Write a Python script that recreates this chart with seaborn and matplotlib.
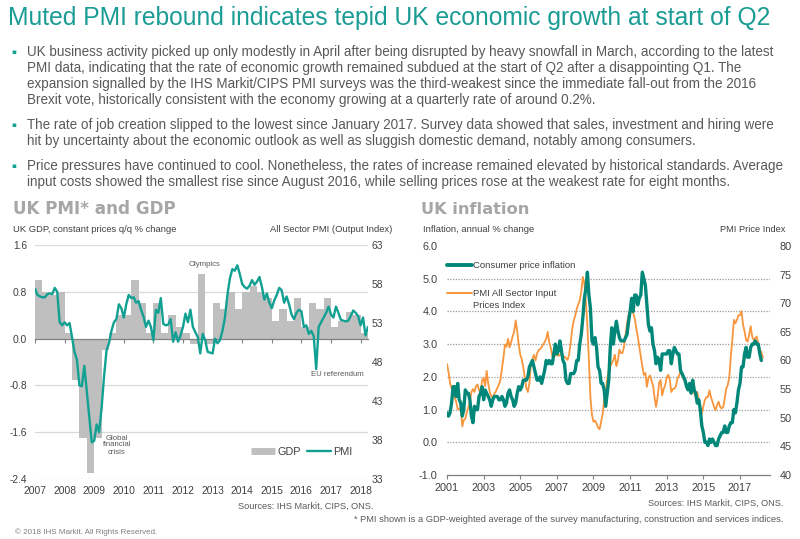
import numpy as np
import pandas as pd
import matplotlib
matplotlib.use("Agg")
import matplotlib.pyplot as plt
from matplotlib.lines import Line2D
from matplotlib import font_manager as fm
import seaborn as sns

# ------------------------------------------------------------------ data
gdp_start = 2007          # quarterly, 2007 Q1 .. 2018 Q1
gdp_qoq = [1.0, 0.8, 0.75, 0.8,
           0.1, -0.7, -1.7, -2.3,
           -1.7, -0.2, 0.1, 0.4,
           0.4, 1.0, 0.6, 0.1,
           0.6, 0.1, 0.4, 0.2,
           0.1, -0.1, 1.1, -0.1,
           0.6, 0.5, 0.8, 0.5,
           0.8, 0.9, 0.8, 0.7,
           0.3, 0.5, 0.3, 0.7,
           0.2, 0.6, 0.5, 0.7,
           0.2, 0.3, 0.45, 0.4,
           0.1]

pmi_start = 2007          # monthly, Jan 2007 .. Apr 2018
pmi_output = [57.4, 56.6, 56.4, 56.3, 56.3, 56.7, 56.8, 56.7, 57.5, 57.0, 53.1, 52.7,
              53.1, 52.7, 53.0, 51.2, 49.3, 48.3, 45.0, 44.9, 47.5, 44.2, 40.8, 37.7,
              37.9, 40.0, 39.0, 42.1, 46.2, 49.5, 50.4, 52.0, 53.1, 53.5, 55.4, 54.9,
              53.7, 55.4, 56.6, 56.2, 56.3, 55.6, 55.8, 54.7, 53.8, 52.5, 53.3, 52.5,
              50.8, 54.7, 54.3, 56.2, 52.9, 52.7, 52.8, 53.5, 50.6, 51.8, 50.6, 51.4,
              52.5, 54.2, 53.1, 54.7, 52.5, 51.8, 51.2, 49.1, 51.6, 50.8, 49.3, 49.2,
              49.1, 51.0, 50.4, 50.8, 52.0, 53.7, 56.6, 58.7, 59.9, 59.7, 60.4, 59.3,
              58.0, 57.6, 57.4, 57.8, 58.5, 57.9, 58.3, 58.9, 57.6, 56.0, 56.8, 55.6,
              54.9, 55.9, 56.6, 57.5, 57.2, 55.6, 56.4, 55.4, 54.1, 53.5, 54.3, 54.7,
              54.5, 52.5, 52.7, 51.6, 52.0, 51.3, 47.1, 52.5, 53.1, 53.7, 54.3, 55.1,
              54.1, 53.7, 55.1, 54.3, 53.4, 53.3, 53.2, 53.3, 53.9, 54.6, 54.3, 53.9,
              52.7, 53.7, 51.4, 52.5]

infl_start = 2001         # monthly from Jan 2001
cpi_inflation = [0.9, 0.8, 0.9, 1.2, 1.7, 1.7, 1.4, 1.8, 1.3, 1.2, 0.8, 1.0,
                 1.6, 1.5, 1.5, 1.3, 0.8, 0.6, 1.1, 1.0, 1.0, 1.4, 1.5, 1.7,
                 1.3, 1.6, 1.5, 1.4, 1.3, 1.1, 1.3, 1.4, 1.4, 1.4, 1.3, 1.3,
                 1.4, 1.3, 1.1, 1.2, 1.5, 1.6, 1.4, 1.3, 1.1, 1.2, 1.5, 1.7,
                 1.6, 1.7, 1.9, 1.9, 1.9, 2.0, 2.3, 2.4, 2.5, 2.3, 2.1, 1.9,
                 1.9, 2.0, 1.8, 2.0, 2.2, 2.5, 2.4, 2.5, 2.4, 2.4, 2.7, 3.0,
                 2.7, 2.8, 3.1, 2.8, 2.5, 2.4, 1.9, 1.8, 1.8, 2.1, 2.1, 2.1,
                 2.2, 2.5, 2.5, 3.0, 3.3, 3.8, 4.4, 4.7, 5.2, 4.5, 4.1, 3.1,
                 3.0, 3.2, 2.9, 2.3, 2.2, 1.8, 1.8, 1.6, 1.1, 1.5, 1.9, 2.9,
                 3.5, 3.0, 3.4, 3.7, 3.4, 3.2, 3.1, 3.1, 3.1, 3.2, 3.3, 3.7,
                 4.0, 4.4, 4.0, 4.5, 4.5, 4.2, 4.4, 4.5, 5.2, 5.0, 4.8, 4.2,
                 3.6, 3.4, 3.5, 3.0, 2.8, 2.4, 2.6, 2.5, 2.2, 2.7, 2.7, 2.7,
                 2.7, 2.8, 2.8, 2.4, 2.7, 2.9, 2.8, 2.7, 2.7, 2.2, 2.1, 2.0,
                 1.9, 1.7, 1.6, 1.8, 1.5, 1.9, 1.6, 1.5, 1.2, 1.3, 1.0, 0.5,
                 0.3, 0.0, 0.0, -0.1, 0.1, 0.0, 0.1, 0.0, -0.1, -0.1, 0.1, 0.2,
                 0.3, 0.3, 0.5, 0.3, 0.3, 0.5, 0.6, 0.6, 1.0, 0.9, 1.2, 1.6,
                 1.8, 2.3, 2.3, 2.7, 2.9, 2.6, 2.6, 2.9, 3.0, 3.0, 3.1, 3.0,
                 3.0, 2.7, 2.5]

pmi_input_prices = [59.4, 58.0, 56.0, 55.2, 54.0, 53.6, 52.8, 51.5, 51.5, 51.8, 48.5, 49.6,
                    49.8, 51.0, 51.8, 52.7, 54.5, 55.0, 54.5, 55.5, 55.8, 54.8, 54.5, 56.5,
                    57.0, 55.5, 58.2, 56.0, 54.5, 53.8, 53.5, 54.2, 54.6, 55.2, 55.8, 56.6,
                    58.5, 60.5, 62.8, 62.4, 63.8, 62.3, 63.2, 64.2, 65.0, 67.0, 65.2, 62.8,
                    61.0, 60.2, 58.8, 57.0, 55.2, 54.5, 56.0, 59.5, 60.2, 61.0, 60.0, 61.2,
                    61.8, 62.0, 62.3, 62.8, 63.2, 63.8, 65.0, 63.2, 62.2, 60.8, 61.5, 60.8,
                    61.5, 60.8, 61.0, 61.2, 60.5, 60.7, 60.4, 60.1, 61.0, 63.0, 65.4, 66.9,
                    67.8, 69.0, 69.8, 70.5, 72.0, 74.6, 73.5, 70.5, 66.0, 60.0, 53.5, 50.5,
                    49.3, 49.5, 49.0, 48.3, 48.0, 49.3, 50.7, 53.1, 54.5, 56.8, 58.3, 59.0,
                    59.5, 60.1, 61.0, 59.0, 60.0, 61.9, 61.3, 61.3, 62.4, 64.5, 66.5, 68.0,
                    68.6, 68.9, 68.3, 67.4, 65.7, 64.2, 62.4, 60.7, 59.0, 57.5, 57.8, 55.4,
                    57.0, 57.4, 56.5, 55.7, 53.6, 51.9, 53.6, 56.1, 56.6, 53.9, 55.0, 55.7,
                    57.0, 57.5, 56.6, 54.5, 55.0, 55.1, 55.5, 56.8, 57.3, 58.1, 57.5, 56.8,
                    56.2, 55.9, 55.1, 54.8, 54.5, 55.1, 54.3, 53.6, 54.5, 53.1, 51.6, 50.7,
                    52.0, 53.1, 53.6, 53.6, 54.8, 53.6, 52.8, 51.9, 51.3, 52.2, 52.8, 51.9,
                    51.6, 51.9, 53.3, 55.1, 55.7, 57.1, 60.7, 63.6, 67.1, 66.5, 67.1, 67.9,
                    67.9, 68.6, 66.3, 65.1, 63.6, 63.3, 64.5, 66.0, 64.2, 63.6, 63.9, 64.2,
                    63.0, 61.9, 61.5, 60.5]

left_xticks = list(range(2007, 2019))
left_yticks = [-2.4, -1.6, -0.8, 0.0, 0.8, 1.6]
left_y2ticks = [33, 38, 43, 48, 53, 58, 63]
right_xticks = list(range(2001, 2018, 2))
right_yticks = [-1.0, 0.0, 1.0, 2.0, 3.0, 4.0, 5.0, 6.0]
right_y2ticks = [40, 45, 50, 55, 60, 65, 70, 75, 80]

title = "Muted PMI rebound indicates tepid UK economic growth at start of Q2"
bullets = [
    ["UK business activity picked up only modestly in April after being disrupted by heavy snowfall in March, according to the latest",
     "PMI data, indicating that the rate of economic growth remained subdued at the start of Q2 after a disappointing Q1. The",
     "expansion signalled by the IHS Markit/CIPS PMI surveys was the third-weakest since the immediate fall-out from the 2016",
     "Brexit vote, historically consistent with the economy growing at a quarterly rate of around 0.2%."],
    ["The rate of job creation slipped to the lowest since January 2017. Survey data showed that sales, investment and hiring were",
     "hit by uncertainty about the economic outlook as well as sluggish domestic demand, notably among consumers."],
    ["Price pressures have continued to cool. Nonetheless, the rates of increase remained elevated by historical standards. Average",
     "input costs showed the smallest rise since August 2016, while selling prices rose at the weakest rate for eight months."],
]
bullet_rows = [[52, 68, 84, 100], [125, 141], [166, 182]]

# ------------------------------------------------------------------ style
sns.set_theme(style="white")


def pick(cands):
    for c in cands:
        try:
            fm.findfont(fm.FontProperties(family=c), fallback_to_default=False)
            return c
        except Exception:
            pass
    return "DejaVu Sans"


NARROW = pick(["Liberation Sans Narrow", "DejaVu Sans Condensed", "Liberation Sans"])
plt.rcParams["font.family"] = [NARROW, "DejaVu Sans"]
plt.rcParams["axes.unicode_minus"] = False

TEAL = "#12A093"
TEAL_DARK = "#00877A"
ORANGE = "#F7963C"
BAR = "#BFBFBF"
TXT = "#595959"
TICK = "#404040"
SUB = "#A6A6A6"

W, H = 800, 539
fig = plt.figure(figsize=(W / 100, H / 100), dpi=100)
fig.patch.set_facecolor("white")
renderer = fig.canvas.get_renderer()


def ftext(x, y, s, width=None, size=8, ha="left", va="center", **kw):
    t = fig.text(x / W, 1 - y / H, s, ha=ha, va=va, fontsize=size, **kw)
    if width:
        w = t.get_window_extent(renderer).width
        t.set_fontsize(size * width / w)
    return t


# ------------------------------------------------------------------ header text
ftext(8, 18, title, width=762, size=18, color="#1A9C95")
probe = ftext(27, bullet_rows[0][0], bullets[0][0], width=752, size=9, color=TXT)
body_size = probe.get_fontsize()
probe.remove()
for lines, rows in zip(bullets, bullet_rows):
    ftext(11, rows[0], "\u25aa", size=body_size * 0.55, color=TEAL,
          family=["DejaVu Sans"])
    for ln, yy in zip(lines, rows):
        ftext(27, yy, ln, size=body_size, color=TXT)

# ------------------------------------------------------------------ left chart
axL = fig.add_axes([35 / W, 1 - 479 / H, (368 - 35) / W, (479 - 245) / H])
q_centers = gdp_start + 0.125 + 0.25 * np.arange(len(gdp_qoq))
sns.barplot(x=q_centers, y=gdp_qoq, native_scale=True, width=1.0, color=BAR,
            saturation=1, errorbar=None, linewidth=0, ax=axL)
axL.set_xlim(2007, 2018.25)
axL.set_ylim(-2.4, 1.6)
axL.set_yticks(left_yticks, labels=[f"{v:.1f}" for v in left_yticks])
for v in left_yticks:
    if v != 0:
        axL.axhline(v, color="#D9D9D9", lw=0.9, zorder=0)
for s in ["top", "left", "right"]:
    axL.spines[s].set_visible(False)
axL.spines["bottom"].set_position(("data", 0))
axL.spines["bottom"].set_color("#808080")
axL.spines["bottom"].set_linewidth(0.9)
axL.set_xticks(left_xticks)
axL.tick_params(axis="x", direction="out", length=3, width=0.8, color="#808080",
                labelbottom=False, bottom=True)
axL.tick_params(axis="y", length=0, pad=5.5, labelsize=7.4, labelcolor=TICK)
axL.set_xlabel("")
axL.set_ylabel("")

axL2 = axL.twinx()
pmi_t = pmi_start + np.arange(len(pmi_output)) / 12
sns.lineplot(x=pmi_t, y=pmi_output, color=TEAL, lw=1.7, ax=axL2)
axL2.set_ylim(33, 63)
axL2.set_xlim(2007, 2018.25)
axL2.set_yticks(left_y2ticks)
axL2.xaxis.set_visible(True)
axL2.set_xticks(left_xticks, labels=[str(y) for y in left_xticks])
axL2.tick_params(axis="x", length=0, pad=5, labelsize=7.4, labelcolor=TICK)
axL2.tick_params(axis="y", length=0, pad=2.5, labelsize=7.4, labelcolor=TICK)
for s in axL2.spines.values():
    s.set_visible(False)
axL2.set_ylabel("")

axL2.legend(handles=[Line2D([], [], color=BAR, lw=5, solid_capstyle="butt"),
                     Line2D([], [], color=TEAL, lw=1.7)],
            labels=["GDP", "PMI"], ncol=2, frameon=False, loc="center",
            bbox_to_anchor=(302 / W, 1 - 452 / H), bbox_transform=fig.transFigure,
            fontsize=7.8, handlelength=2.2, handletextpad=0.2, columnspacing=0.6,
            labelcolor=TICK)

ann_kw = dict(color=TXT, size=5.6, ha="center")
ftext(205, 264, "Olympics", **ann_kw)
ftext(117, 445, "Global\nfinancial\ncrisis", linespacing=1.0, **ann_kw)
ftext(337, 375, "EU referendum", **ann_kw)

ftext(13, 209, "UK PMI* and GDP", width=162, size=13, color=SUB, weight="bold",
      family=["DejaVu Sans"])
ftext(13, 229, "UK GDP, constant prices q/q % change", width=164, size=7, color=TICK)
ftext(392, 229, "All Sector PMI (Output Index)", width=122, size=7, color=TICK, ha="right")
ftext(373, 506, "Sources: IHS Markit, CIPS, ONS.", width=135, size=7, color=TXT, ha="right")

# ------------------------------------------------------------------ right chart
axR = fig.add_axes([447 / W, 1 - 475 / H, (770 - 447) / W, (475 - 246) / H])
inp_t = infl_start + np.arange(len(pmi_input_prices)) / 12
sns.lineplot(x=inp_t, y=pmi_input_prices, color=ORANGE, lw=1.3, ax=axR)
axR.set_ylim(40, 80)
axR.set_xlim(2001, 2018.64)
axR.set_yticks(right_y2ticks)
grid_equiv = [40 + (c + 1) * 40 / 7 for c in right_yticks[1:]]
axR.set_yticks(grid_equiv, minor=True)
axR.grid(which="minor", axis="y", color="#9A9A9A", linestyle=(0, (1, 1.2)), lw=0.9)
axR.grid(which="major", visible=False)
axR.set_xticks(right_xticks, labels=[str(y) for y in right_xticks])
axR.tick_params(axis="x", direction="out", length=3, width=0.8, color="#808080",
                pad=3, labelsize=7.8, labelcolor=TICK, bottom=True)
for s in ["top", "left", "right"]:
    axR.spines[s].set_visible(False)
axR.spines["bottom"].set_color("#808080")
axR.spines["bottom"].set_linewidth(0.9)
axR.set_ylabel("")

axR2 = axR.twinx()
cpi_t = infl_start + np.arange(len(cpi_inflation)) / 12
sns.lineplot(x=cpi_t, y=cpi_inflation, color=TEAL_DARK, lw=2.4, ax=axR2)
axR2.set_ylim(-1, 6)
axR2.set_xlim(2001, 2018.64)
axR2.yaxis.tick_left()
axR2.set_yticks(right_yticks, labels=[f"{v:.1f}" for v in right_yticks])
axR2.tick_params(axis="y", length=0, pad=7, labelsize=7.8, labelcolor=TICK,
                 right=False, labelright=False, left=True, labelleft=True)
for s in axR2.spines.values():
    s.set_visible(False)
axR2.set_ylabel("")

# price index labels belong on the right side of the chart
axR.yaxis.tick_right()
axR.tick_params(axis="y", which="both", length=0, pad=7, labelsize=7.8, labelcolor=TICK,
                left=False, labelleft=False, right=True, labelright=True)

# legend (drawn manually to match the layout)
fig.add_artist(Line2D([447 / W, 472 / W], [1 - 265 / H] * 2, color=TEAL_DARK, lw=2.8,
                      transform=fig.transFigure))
leg = ftext(473, 293, "PMI All Sector Input", width=83, size=7.5, color=TICK)
leg_size = leg.get_fontsize()
ftext(473, 265, "Consumer price inflation", size=leg_size, color=TICK)
fig.add_artist(Line2D([447 / W, 472 / W], [1 - 293 / H] * 2, color=ORANGE, lw=1.4,
                      transform=fig.transFigure))
ftext(473, 305, "Prices Index", size=leg_size, color=TICK)

ftext(421, 209, "UK inflation", width=107, size=13, color=SUB, weight="bold",
      family=["DejaVu Sans"])
ftext(423, 229, "Inflation, annual % change", width=110, size=7, color=TICK)
ftext(785, 229, "PMI Price Index", width=65, size=7, color=TICK, ha="right")
ftext(783, 503, "Sources: IHS Markit, CIPS, ONS.", width=135, size=7, color=TXT, ha="right")

# ------------------------------------------------------------------ footer
ftext(783, 520, "* PMI shown is a GDP-weighted average of the survey manufacturing, "
      "construction and services indices.", width=430, size=7, color=TXT, ha="right")
ftext(15, 532, "\u00a9 2018 IHS Markit. All Rights Reserved.", width=143, size=6,
      color="#7F7F7F")

fig.savefig("out.png", dpi=100, facecolor="white")
